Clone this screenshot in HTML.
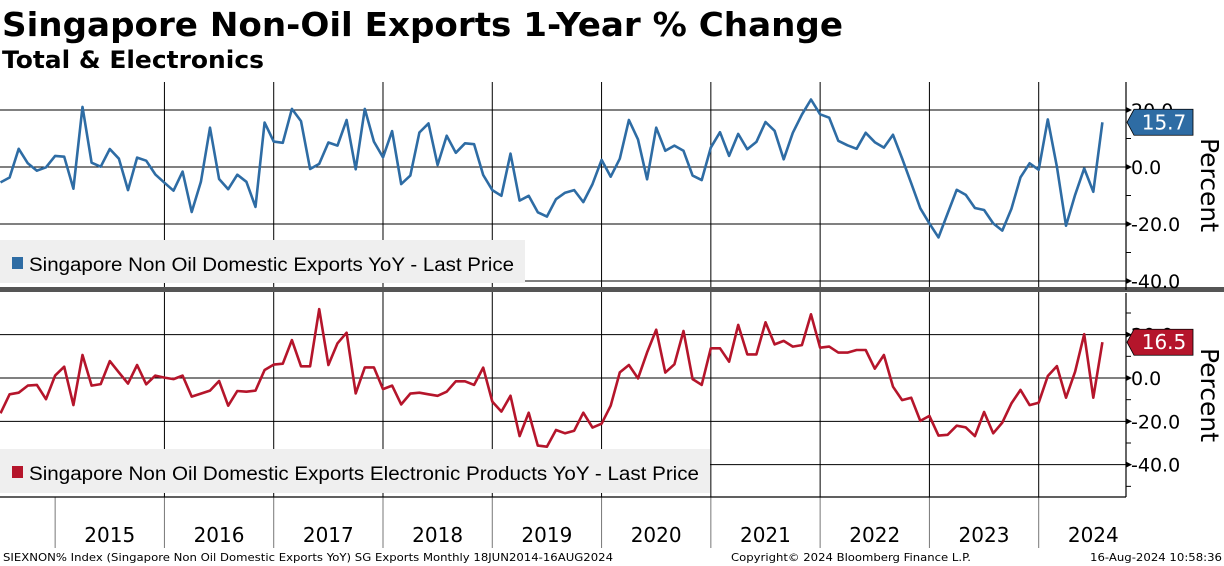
<!DOCTYPE html>
<html><head><meta charset="utf-8"><style>
html,body{margin:0;padding:0;background:#fff;}
svg{display:block;font-family:"DejaVu Sans","Liberation Sans",sans-serif;}
</style></head><body>
<svg id="chart" width="1224" height="566" viewBox="0 0 1224 566" xmlns="http://www.w3.org/2000/svg">
<text x="2" y="36" font-size="33" font-weight="bold" textLength="841" lengthAdjust="spacingAndGlyphs">Singapore Non-Oil Exports 1-Year % Change</text>
<text x="2" y="68" font-size="24" font-weight="bold" textLength="262" lengthAdjust="spacingAndGlyphs">Total &amp; Electronics</text>
<g id="grid"></g>
<rect x="0" y="240" width="525" height="43" fill="#efefef"/>
<rect x="12" y="257" width="11" height="12" fill="#2e6ca4"/>
<text x="29" y="271" font-size="19" font-family="Liberation Sans, sans-serif" textLength="485" lengthAdjust="spacingAndGlyphs">Singapore Non Oil Domestic Exports YoY - Last Price</text>
<rect x="0" y="449" width="710" height="44" fill="#efefef"/>
<rect x="12" y="466" width="11" height="12" fill="#b5152b"/>
<text x="29" y="480" font-size="19" font-family="Liberation Sans, sans-serif" textLength="670" lengthAdjust="spacingAndGlyphs">Singapore Non Oil Domestic Exports Electronic Products YoY - Last Price</text>
<g id="series"></g>
<rect x="0" y="287" width="1224" height="5" fill="#555"/>
<g id="axes"></g>
<text x="3" y="561" font-size="11" font-family="DejaVu Sans, sans-serif" textLength="610" lengthAdjust="spacingAndGlyphs">SIEXNON% Index (Singapore Non Oil Domestic Exports YoY) SG Exports  Monthly 18JUN2014-16AUG2024</text>
<text x="731" y="561" font-size="11" textLength="240" lengthAdjust="spacingAndGlyphs">Copyright© 2024 Bloomberg Finance L.P.</text>
<text x="1090" y="561" font-size="11" textLength="132" lengthAdjust="spacingAndGlyphs">16-Aug-2024 10:58:36</text>
</svg>
<script>
const years = ["2015","2016","2017","2018","2019","2020","2021","2022","2023","2024"];
const topTicks = [20, 0, -20, -40];
const botTicks = [20, 0, -20, -40];
const totalYoY = [-5.4,-3.7,6.4,1.3,-1.3,-0.1,3.9,3.6,-7.6,21.1,1.5,0.1,6.3,2.9,-8.1,3.3,2.2,-2.6,-5.5,-8.3,-1.6,-15.8,-5.2,13.8,-4.2,-7.8,-2.7,-5.2,-14,15.6,8.9,8.5,20.4,16.1,-0.7,1.1,8.6,7.5,16.5,-0.8,20.4,8.9,3.4,12.6,-6.0,-3.0,12.1,
15.3,0.7,11,5,8.3,8,-2.8,-8.1,-10.1,4.7,-11.8,-10.1,-15.9,-17.4,-11.3,-9,-8.1,-12.3,-6,2.5,-3.4,2.9,16.5,9.7,-4.3,13.8,5.7,7.5,5.7,-3,-4.6,6.8,12.2,3.9,11.6,6.2,8.8,15.8,12.7,2.7,12,18.4,23.7,18.5,
17.3,9.2,7.6,6.4,12,8.7,6.8,11.3,3,-5.7,-14.5,-19.8,-24.7,-16.3,-8,-9.8,-14.4,-15.1,-19.8,-22.3,-14.7,-3.6,1.3,-1,16.7,0.1,-20.6,-9.8,-0.5,-8.7,15.7];
const elecYoY = [-16.3,-7.5,-6.8,-3.5,-3.2,-9.8,1.1,5.2,-12.5,10.6,-3.5,-2.8,7.8,2.6,-2.6,6,-2.9,1.1,0.2,-0.5,1.1,-8.6,-7.2,-5.8,-1.4,-12.8,-6,-6.3,-5.8,3.7,6.2,6.6,17.5,5.4,5.4,31.8,6,16,20.9,-7.1,4.9,4.9,-5.1,-3.5,-12.2,-7.2,
-6.8,-7.5,-8.2,-6.3,-1.5,-1.5,-3.2,4.8,-10.9,-15.5,-8.2,-26.8,-16,-31.2,-31.7,-24,-25.5,-24.3,-16,-22.9,-21.1,-12.8,2.6,6,-0.2,11.8,22.3,2.5,6.3,21.7,-0.5,-3.2,13.7,13.7,7.5,24.5,10.9,10.9,25.7,15.5,17.1,14.5,15.2,29.4,
14,14.5,11.7,11.7,12.9,12.9,4.3,10.6,-4,-10.2,-9.1,-19.8,-17.5,-26.6,-26.2,-22,-22.8,-26.8,-15.7,-25.5,-20.6,-11.7,-5.5,-12.5,-11.4,0.9,5.5,-9.1,2.9,20.2,-9.1,16.5];
const topLast = "15.7", botLast = "16.5";

const NS = "http://www.w3.org/2000/svg";
const xPos = i => 0.5 + i * 9.107;
const yTop = v => 167 - v * 2.85;
const yBot = v => 378 - v * 2.167;
const AX = 1126;
function mk(tag, attrs, parent){const e=document.createElementNS(NS,tag);for(const k in attrs)e.setAttribute(k,attrs[k]);parent.appendChild(e);return e;}
const grid = document.getElementById('grid'), axes = document.getElementById('axes'), series = document.getElementById('series');

// horizontal gridlines
topTicks.forEach(v=>{const l=mk('line',{x1:0,x2:AX,y1:yTop(v),y2:yTop(v),stroke:'#000','stroke-width':1},grid);

});
botTicks.forEach(v=>{const l=mk('line',{x1:0,x2:AX,y1:yBot(v),y2:yBot(v),stroke:'#000','stroke-width':1},grid);

});
// vertical year lines
years.forEach((y,k)=>{
  const xb = xPos(6 + 12*k);
  if(k>0){const l=mk('line',{x1:xb,x2:xb,y1:82,y2:497,stroke:'#000','stroke-width':1},grid);
  
  }
  const t=mk('line',{x1:xb,x2:xb,y1:497,y2:548,stroke:'#777','stroke-width':1},axes);
  
  
  const tx=mk('text',{x:xb+54.6,y:542,'font-size':20,'text-anchor':'middle','font-family':'DejaVu Sans, sans-serif'},axes);
  tx.textContent=y;
  
  
});
// series
function drawLine(arr, yf, color, name){
  const d = arr.map((v,i)=>(i?'L':'M')+xPos(i).toFixed(1)+' '+yf(v).toFixed(1)).join(' ');
  const p = mk('path',{d:d,fill:'none',stroke:color,'stroke-width':2.6,'stroke-linejoin':'round'},series);
  
  
}
drawLine(totalYoY, yTop, '#2e6ca4', 'total-exports-line');
drawLine(elecYoY, yBot, '#b5152b', 'electronics-exports-line');

// axes frames
[[AX,82,AX,290],[AX,293,AX,497],[0,497,AX,497]].forEach(a=>{const l=mk('line',{x1:a[0],y1:a[1],x2:a[2],y2:a[3],stroke:'#000','stroke-width':1.2},axes);

});
// minor ticks
for(let v=30; v>=-50; v-=10){const y=yTop(v); if(y<82||y>287)continue;
  const l=mk('line',{x1:AX,x2:AX+5,y1:y,y2:y,stroke:'#000'},axes);
  
  }
for(let v=40; v>=-50; v-=10){const y=yBot(v); if(y<293||y>497)continue;
  const l=mk('line',{x1:AX,x2:AX+5,y1:y,y2:y,stroke:'#000'},axes);
  
  }
function yLabels(ticks, yf, nm){ticks.forEach(v=>{
  const t=mk('text',{x:1131,y:yf(v)+7,'font-size':19,'font-family':'DejaVu Sans, sans-serif'},axes);
  t.textContent=(v<0?'-':'')+Math.abs(v).toFixed(1);
  
  
  const a=mk('path',{d:`M${AX} ${yf(v)-3} L${AX+6} ${yf(v)} L${AX} ${yf(v)+3}Z`,fill:'#000'},axes);
  
  
});}
yLabels(topTicks, yTop, 'top-y-label');
yLabels(botTicks, yBot, 'bottom-y-label');
function callout(val, yf, color, nm){
  const y=yf(parseFloat(val));
  const p=mk('path',{d:`M1127 ${y} L1134 ${y-13} L1193 ${y-13} L1193 ${y+13} L1134 ${y+13}Z`,fill:color,stroke:'#000','stroke-width':0.8},axes);
  
  
  const t=mk('text',{x:1164,y:y+7,'font-size':20,fill:'#fff','text-anchor':'middle','font-family':'DejaVu Sans, sans-serif'},axes);
  t.textContent=val;
  
  
}
callout(topLast, yTop, '#2e6ca4', 'top-last-value');
callout(botLast, yBot, '#b5152b', 'bottom-last-value');
[[185,'top-y-axis-title'],[395,'bottom-y-axis-title']].forEach(a=>{
  const t=mk('text',{x:1201,y:a[0],'font-size':25,'text-anchor':'middle',transform:`rotate(90 1201 ${a[0]})`,'font-family':'DejaVu Sans, sans-serif'},axes);
  t.textContent='Percent';
  
  
});
</script>
</body></html>
